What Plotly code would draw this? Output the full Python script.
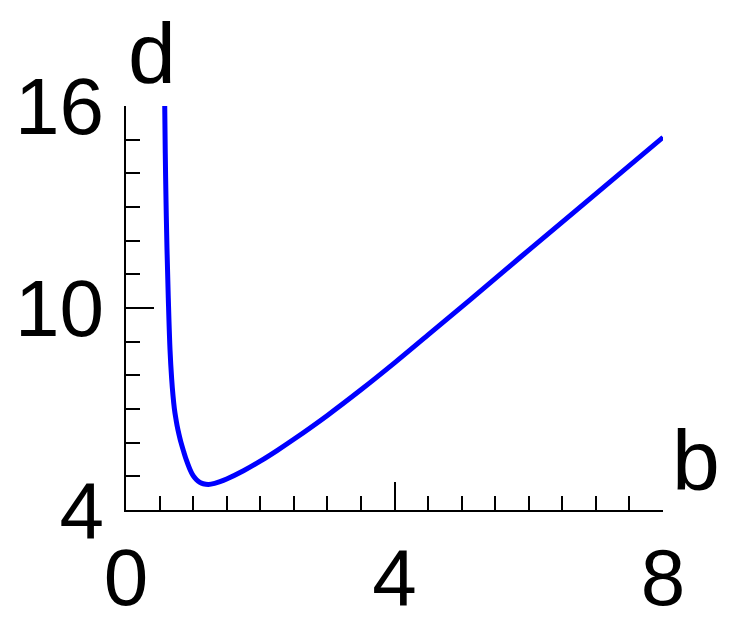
import plotly.graph_objects as go

# curve
b_vals = [0.577, 0.585, 0.596, 0.61, 0.63, 0.656, 0.68, 0.70, 0.72, 0.74, 0.76, 0.79,
          0.82, 0.86, 0.90, 0.95, 1.00, 1.05, 1.10, 1.15, 1.23, 1.32, 1.40, 1.50,
          1.75, 2.0, 2.25, 2.5, 3.0, 3.5, 4.0, 4.5, 5.13, 5.87, 6.72, 8.0]
d_vals = [16.0, 14.6, 13.2, 11.8, 10.3, 8.75, 7.9, 7.4, 7.02, 6.75, 6.52, 6.24,
          6.0, 5.73, 5.48, 5.22, 5.02, 4.9, 4.82, 4.78, 4.76, 4.79, 4.84, 4.92,
          5.165, 5.45, 5.765, 6.10, 6.81, 7.57, 8.37, 9.2, 10.25, 11.5, 12.92, 15.07]

x_ticks = [0, 4, 8]
y_ticks = [4, 10, 16]

FONT = "Liberation Sans, Arial, sans-serif"

fig = go.Figure()
fig.add_trace(go.Scatter(x=b_vals, y=d_vals, mode="lines",
                         line=dict(color="rgb(0,0,255)", width=5, shape="spline", smoothing=1),
                         hoverinfo="skip"))

axis_common = dict(
    showgrid=False, zeroline=False, showline=True, linecolor="black", linewidth=2,
    ticks="inside", ticklen=28, tickwidth=2, tickcolor="black", automargin=False,
    tickfont=dict(size=80, color="black", family=FONT),
)

fig.update_xaxes(range=[0, 8], tickvals=x_ticks, ticktext=[str(v) for v in x_ticks],
                 minor=dict(ticks="inside", ticklen=14, tickwidth=2, tickcolor="black",
                            dtick=0.5, tick0=0, showgrid=False),
                 ticklabelstandoff=-3, **axis_common)
fig.update_yaxes(range=[4, 16], tickvals=y_ticks, ticktext=[str(v) for v in y_ticks],
                 minor=dict(ticks="inside", ticklen=14, tickwidth=2, tickcolor="black",
                            dtick=1, tick0=4, showgrid=False),
                 ticklabelstandoff=4, **axis_common)

# axis names sit at the ends of the axes
fig.add_annotation(text="d", xref="paper", yref="paper", x=0, y=1.13,
                   xanchor="left", yanchor="middle", showarrow=False,
                   font=dict(size=86, color="black", family=FONT))
fig.add_annotation(text="b", xref="paper", yref="paper", x=1.013, y=0.125,
                   xanchor="left", yanchor="middle", showarrow=False,
                   font=dict(size=86, color="black", family=FONT))

# page body adds an 8px margin, so the figure is 8px smaller each way
fig.update_layout(width=739, height=617, autosize=False,
                  margin=dict(l=118, r=84, t=98, b=115),
                  plot_bgcolor="white", paper_bgcolor="white",
                  showlegend=False)

fig.write_html("out.html")
